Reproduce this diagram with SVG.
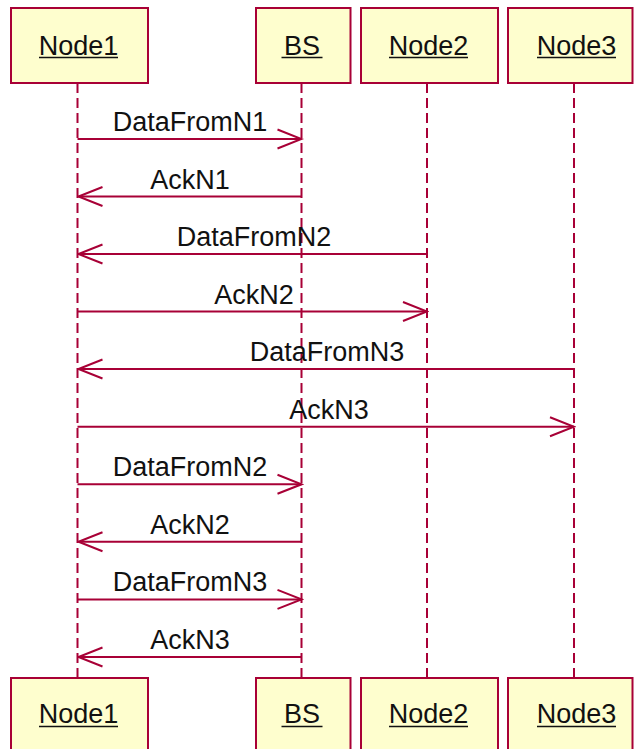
<svg xmlns="http://www.w3.org/2000/svg" width="634" height="749" viewBox="0 0 634 749">
<style>
.box{fill:#FEFECE;stroke:#A80036;stroke-width:2}
.name{font-family:"Liberation Sans",Arial,sans-serif;font-size:27px;fill:#111;text-anchor:middle}
.ul{stroke:#111;stroke-width:1.5}
.life{stroke:#A80036;stroke-width:2;stroke-dasharray:10,5;fill:none}
.msg{stroke:#A80036;stroke-width:2;fill:none;marker-end:url(#arr)}
.lbl{font-family:"Liberation Sans",Arial,sans-serif;font-size:27px;fill:#111;text-anchor:middle}
</style>
<defs>
<marker id="arr" markerUnits="userSpaceOnUse" viewBox="-26 -12 28 24" markerWidth="28" markerHeight="24" refX="0" refY="0" orient="auto">
<path d="M-24,-9.5 L0,0 L-24,9.5" fill="none" stroke="#A80036" stroke-width="2"/>
</marker>
</defs>
<rect width="634" height="749" fill="#fff"/>
<g id="lifelines">
<line class="life" x1="77.5" y1="83" x2="77.5" y2="678"/>
<line class="life" x1="301.5" y1="83" x2="301.5" y2="678"/>
<line class="life" x1="427" y1="83" x2="427" y2="678"/>
<line class="life" x1="574" y1="83" x2="574" y2="678"/>
</g>
<g id="node1-top"><rect class="box" x="11" y="8" width="137" height="75"/><text class="name" x="78.5" y="55">Node1</text><line class="ul" x1="39" y1="57.5" x2="118" y2="57.5"/></g>
<g id="bs-top"><rect class="box" x="256" y="8" width="94.5" height="75"/><text class="name" x="302" y="55">BS</text><line class="ul" x1="281.5" y1="57.5" x2="322.5" y2="57.5"/></g>
<g id="node2-top"><rect class="box" x="361" y="8" width="137" height="75"/><text class="name" x="428.5" y="55">Node2</text><line class="ul" x1="389" y1="57.5" x2="468" y2="57.5"/></g>
<g id="node3-top"><rect class="box" x="508" y="8" width="124.5" height="75"/><text class="name" x="576.5" y="55">Node3</text><line class="ul" x1="537" y1="57.5" x2="616" y2="57.5"/></g>
<g id="node1-bottom"><rect class="box" x="11" y="678" width="137" height="80"/><text class="name" x="78.5" y="723">Node1</text><line class="ul" x1="39" y1="726.5" x2="118" y2="726.5"/></g>
<g id="bs-bottom"><rect class="box" x="256" y="678" width="94.5" height="80"/><text class="name" x="302" y="723">BS</text><line class="ul" x1="281.5" y1="726.5" x2="322.5" y2="726.5"/></g>
<g id="node2-bottom"><rect class="box" x="361" y="678" width="137" height="80"/><text class="name" x="428.5" y="723">Node2</text><line class="ul" x1="389" y1="726.5" x2="468" y2="726.5"/></g>
<g id="node3-bottom"><rect class="box" x="508" y="678" width="124.5" height="80"/><text class="name" x="576.5" y="723">Node3</text><line class="ul" x1="537" y1="726.5" x2="616" y2="726.5"/></g>
<g id="connectors">
<line class="msg" x1="77.5" y1="139" x2="301.5" y2="139"/>
<text class="lbl" x="190" y="131">DataFromN1</text>
<line class="msg" x1="301.5" y1="196.5" x2="78.5" y2="196.5"/>
<text class="lbl" x="190" y="188.5">AckN1</text>
<line class="msg" x1="427" y1="254" x2="78.5" y2="254"/>
<text class="lbl" x="254" y="246">DataFromN2</text>
<line class="msg" x1="77.5" y1="311.5" x2="427" y2="311.5"/>
<text class="lbl" x="254" y="303.5">AckN2</text>
<line class="msg" x1="574" y1="369" x2="78.5" y2="369"/>
<text class="lbl" x="327" y="361">DataFromN3</text>
<line class="msg" x1="77.5" y1="426.7" x2="574" y2="426.7"/>
<text class="lbl" x="329" y="418.7">AckN3</text>
<line class="msg" x1="77.5" y1="484.3" x2="301.5" y2="484.3"/>
<text class="lbl" x="190" y="476.3">DataFromN2</text>
<line class="msg" x1="301.5" y1="541.8" x2="78.5" y2="541.8"/>
<text class="lbl" x="190" y="533.8">AckN2</text>
<line class="msg" x1="77.5" y1="599.4" x2="301.5" y2="599.4"/>
<text class="lbl" x="190" y="591.4">DataFromN3</text>
<line class="msg" x1="301.5" y1="657" x2="78.5" y2="657"/>
<text class="lbl" x="190" y="649">AckN3</text>
</g>
</svg>
